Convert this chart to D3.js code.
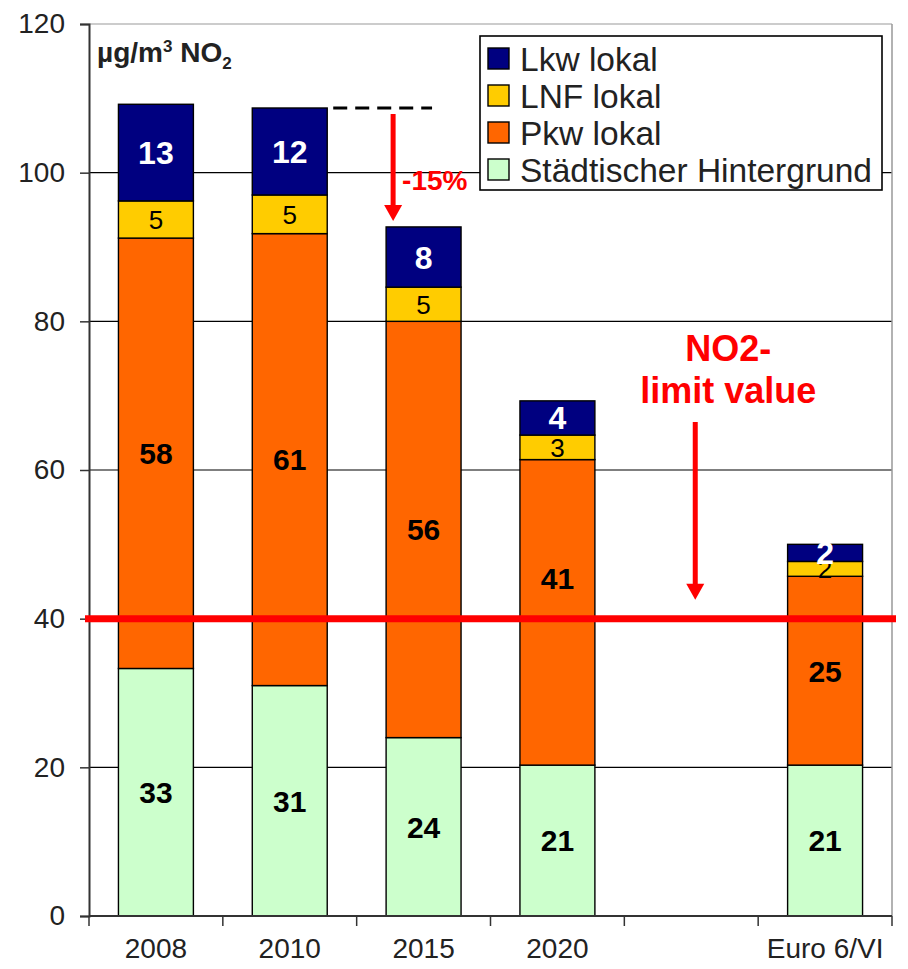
<!DOCTYPE html>
<html>
<head>
<meta charset="utf-8">
<script src="https://cdn.jsdelivr.net/npm/d3@7"></script>
<style>
  body { margin: 0; background: #fff; }
  svg { display: block; font-family: "Liberation Sans", Arial, sans-serif; }
</style>
</head>
<body>
<svg id="chart" width="908" height="969"></svg>
<script>
// ---- data ----
const categories = ["2008", "2010", "2015", "2020", "", "Euro 6/VI"];
const barCategories = ["2008", "2010", "2015", "2020", "Euro 6/VI"];
const seriesNames = ["Städtischer Hintergrund", "Pkw lokal", "LNF lokal", "Lkw lokal"];
const hintergrund = [33.3, 31.0, 24.0, 20.3, 20.3];
const pkw = [57.9, 60.8, 56.0, 41.1, 25.4];
const lnf = [5.0, 5.2, 4.6, 3.3, 2.0];
const lkw = [13.0, 11.7, 8.1, 4.6, 2.3];
const hintergrundLabels = ["33", "31", "24", "21", "21"];
const pkwLabels = ["58", "61", "56", "41", "25"];
const lnfLabels = ["5", "5", "5", "3", "2"];
const lkwLabels = ["13", "12", "8", "4", "2"];
const yTicks = [0, 20, 40, 60, 80, 100, 120];
const limitValue = 40;
const reductionText = "-15%";

// ---- styles ----
const colors = {
  "Städtischer Hintergrund": "#CCFFCC",
  "Pkw lokal": "#FF6600",
  "LNF lokal": "#FFCC00",
  "Lkw lokal": "#000080"
};
const labelStyle = {
  "Städtischer Hintergrund": { fill: "#000", weight: "bold", size: 30 },
  "Pkw lokal": { fill: "#000", weight: "bold", size: 30 },
  "LNF lokal": { fill: "#000", weight: "normal", size: 26 },
  "Lkw lokal": { fill: "#fff", weight: "bold", size: 32 }
};

const W = 908, H = 969;
const margin = { top: 24, right: 16, bottom: 53, left: 89 };
const iw = W - margin.left - margin.right;
const ih = H - margin.top - margin.bottom;

const svg = d3.select("#chart");
const g = svg.append("g").attr("transform", `translate(${margin.left},${margin.top})`);

const x = d3.scaleBand().domain(categories).range([0, iw]).paddingInner(0.44).paddingOuter(0.22);
const y = d3.scaleLinear().domain([0, 120]).range([ih, 0]);

// gridlines
g.append("g").selectAll("line").data(yTicks.filter(t => t > 0)).join("line")
  .attr("x1", 0).attr("x2", iw)
  .attr("y1", d => y(d)).attr("y2", d => y(d))
  .attr("stroke", d => d === 120 ? "#999" : "#000")
  .attr("stroke-width", 1.2);
// right border
g.append("line").attr("x1", iw).attr("x2", iw).attr("y1", 0).attr("y2", ih)
  .attr("stroke", "#999").attr("stroke-width", 1.5);

// stacked data
const rows = barCategories.map((c, i) => ({
  cat: c,
  "Städtischer Hintergrund": hintergrund[i],
  "Pkw lokal": pkw[i],
  "LNF lokal": lnf[i],
  "Lkw lokal": lkw[i]
}));
const labelsBySeries = {
  "Städtischer Hintergrund": hintergrundLabels,
  "Pkw lokal": pkwLabels,
  "LNF lokal": lnfLabels,
  "Lkw lokal": lkwLabels
};
const stacked = d3.stack().keys(seriesNames)(rows);

const layers = g.append("g").selectAll("g").data(stacked).join("g")
  .attr("fill", d => colors[d.key]);
layers.selectAll("rect").data(d => d).join("rect")
  .attr("x", d => x(d.data.cat))
  .attr("width", x.bandwidth())
  .attr("y", d => y(d[1]))
  .attr("height", d => y(d[0]) - y(d[1]))
  .attr("stroke", "#000").attr("stroke-width", 1.4);

// label position: segment centre, lifted above the limit line if it would collide
function labelY(d) {
  const c = (y(d[0]) + y(d[1])) / 2;
  const ly = y(limitValue);
  if (Math.abs(c - ly) < 30 && y(d[1]) < ly - 60) return ly - 40;
  return c;
}

stacked.forEach(layer => {
  const st = labelStyle[layer.key];
  g.append("g").selectAll("text").data(layer).join("text")
    .attr("x", d => x(d.data.cat) + x.bandwidth() / 2)
    .attr("y", d => labelY(d))
    .attr("dy", "0.36em")
    .attr("text-anchor", "middle")
    .attr("fill", st.fill)
    .attr("font-weight", st.weight)
    .attr("font-size", st.size)
    .text((d, i) => labelsBySeries[layer.key][i]);
});

// axes
const yAxis = g.append("g").call(d3.axisLeft(y).tickValues(yTicks).tickSize(9).tickPadding(15));
yAxis.select(".domain").attr("stroke", "#333").attr("stroke-width", 2);
yAxis.selectAll(".tick line").attr("stroke", "#333").attr("stroke-width", 1.5);
yAxis.selectAll("text").attr("font-size", 28).attr("fill", "#222")
  .attr("font-family", "Liberation Sans, Arial, sans-serif");

const xAxisG = g.append("g").attr("transform", `translate(0,${ih})`);
xAxisG.append("line").attr("x1", 0).attr("x2", iw).attr("stroke", "#333").attr("stroke-width", 2);
const step = x.step();
const boundaries = d3.range(categories.length + 1).map(i => i * step);
xAxisG.selectAll("line.tk").data(boundaries).join("line").attr("class", "tk")
  .attr("x1", d => d).attr("x2", d => d).attr("y1", 0).attr("y2", 10)
  .attr("stroke", "#333").attr("stroke-width", 1.5);
xAxisG.selectAll("text").data(categories).join("text")
  .attr("x", d => x(d) + x.bandwidth() / 2)
  .attr("y", 22).attr("dy", "0.71em")
  .attr("text-anchor", "middle")
  .attr("font-size", 28).attr("fill", "#222")
  .text(d => d);

// unit label
const ut = g.append("text").attr("x", 8).attr("y", 38)
  .attr("font-size", 28).attr("font-weight", "bold").attr("fill", "#222");
ut.append("tspan").text("µg/m");
ut.append("tspan").attr("font-size", 17).attr("dy", -10).text("3");
ut.append("tspan").attr("dy", 10).text(" NO");
ut.append("tspan").attr("font-size", 17).attr("dy", 7).text("2");

// limit line
g.append("line").attr("x1", -4).attr("x2", iw + 4)
  .attr("y1", y(limitValue)).attr("y2", y(limitValue))
  .attr("stroke", "#FF0000").attr("stroke-width", 7);

// arrow helper
function arrow(xp, y1, y2) {
  g.append("line").attr("x1", xp).attr("x2", xp).attr("y1", y1).attr("y2", y2 - 14)
    .attr("stroke", "#FF0000").attr("stroke-width", 5);
  g.append("path").attr("d", `M${xp - 9},${y2 - 16} L${xp + 9},${y2 - 16} L${xp},${y2} Z`)
    .attr("fill", "#FF0000");
}

// -15% annotation
const i2010 = barCategories.indexOf("2010");
const i2015 = barCategories.indexOf("2015");
const top2010 = y(stacked[3][i2010][1]);
const top2015 = y(stacked[3][i2015][1]);
const arrowX = x("2015") + 7;
g.append("line")
  .attr("x1", x("2010") + x.bandwidth() + 6).attr("x2", x("2015") + x.bandwidth() - 29)
  .attr("y1", top2010).attr("y2", top2010)
  .attr("stroke", "#000").attr("stroke-width", 3.2).attr("stroke-dasharray", "14,8");
arrow(arrowX, top2010 + 6, top2015 - 6);
g.append("text").attr("x", arrowX + 9).attr("y", y(100) + 17)
  .attr("font-size", 28).attr("font-weight", "bold").attr("fill", "#FF0000")
  .text(reductionText);

// NO2 limit annotation
const noteX = x("") + x.bandwidth() / 2 + 37;
g.append("text").attr("x", noteX).attr("y", 337).attr("text-anchor", "middle")
  .attr("font-size", 36).attr("font-weight", "bold").attr("fill", "#FF0000").text("NO2-");
g.append("text").attr("x", noteX).attr("y", 379).attr("text-anchor", "middle")
  .attr("font-size", 36).attr("font-weight", "bold").attr("fill", "#FF0000").text("limit value");
arrow(x("") + x.bandwidth() / 2 + 4, 398, y(limitValue) - 19);

// legend
const legendItems = ["Lkw lokal", "LNF lokal", "Pkw lokal", "Städtischer Hintergrund"];
const lg = g.append("g").attr("transform", `translate(${480 - margin.left},${36 - margin.top})`);
lg.append("rect").attr("width", 402).attr("height", 154)
  .attr("fill", "#fff").attr("stroke", "#000").attr("stroke-width", 1.6);
const li = lg.selectAll("g").data(legendItems).join("g")
  .attr("transform", (d, i) => `translate(8,${12 + i * 37})`);
li.append("rect").attr("width", 21).attr("height", 21)
  .attr("fill", d => colors[d]).attr("stroke", "#000").attr("stroke-width", 1.4);
li.append("text").attr("x", 32).attr("y", 11).attr("dy", "0.36em")
  .attr("font-size", 33.5).attr("fill", "#222").text(d => d);
</script>
</body>
</html>
